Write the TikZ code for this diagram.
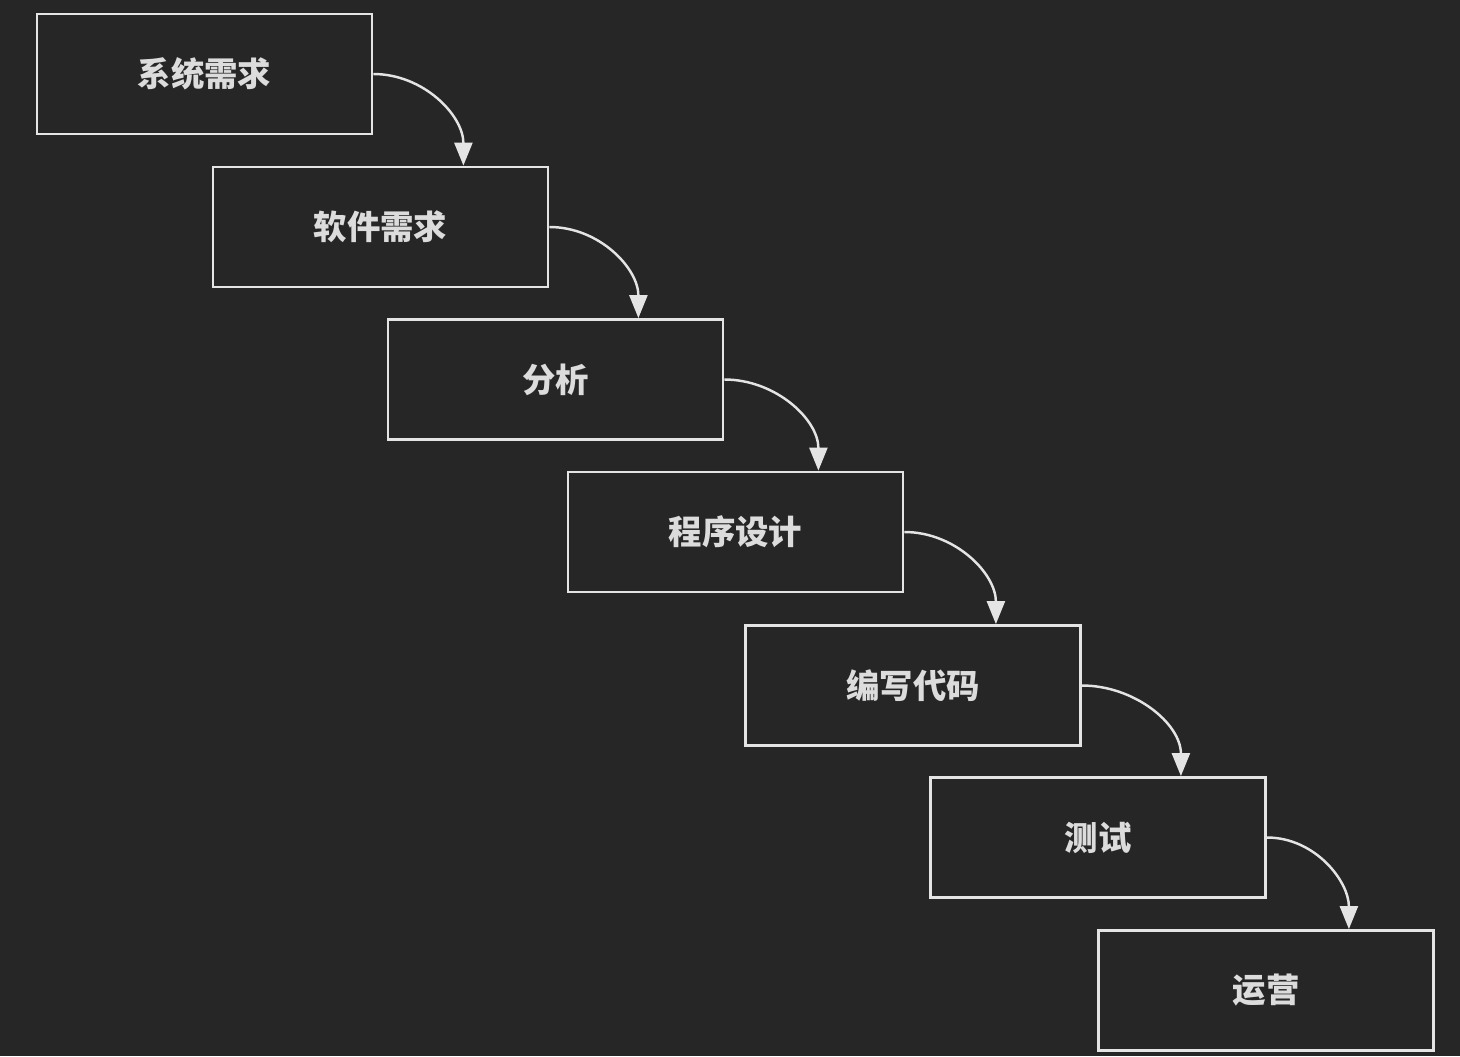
\documentclass[tikz,border=0pt]{standalone}
\usepackage{fontspec}
\newfontfamily\cjk{Noto Sans CJK SC}
\usepackage{xcolor}
\definecolor{cBg}{HTML}{262626}
\definecolor{cLine}{HTML}{E4E4E4}
\definecolor{cText}{HTML}{DCDCDC}
\usetikzlibrary{positioning,arrows.meta,calc}
\tikzset{
  node-box/.style={draw=cLine,line width=0.8pt,minimum width=33.5mm,
    minimum height=12mm,align=center,text=cText,
    font=\cjk\bfseries\fontsize{9.5pt}{11pt}\selectfont},
  arrow/.style={-{Triangle[length=2.3mm,width=1.8mm]},line width=0.7pt,
    draw=cLine,out=0,in=90},
}
\begin{document}
\begin{tikzpicture}
  \fill[cBg] (0,0) rectangle (14.6,-10.56);
  \node[node-box] (s1) at (2.045,-0.74) {系统需求};
  \node[node-box] (s2) at (3.805,-2.27) {软件需求};
  \node[node-box] (s3) at (5.555,-3.795) {分析};
  \node[node-box] (s4) at (7.355,-5.32) {程序设计};
  \node[node-box] (s5) at (9.13,-6.855) {编写代码};
  \node[node-box] (s6) at (10.98,-8.375) {测试};
  \node[node-box] (s7) at (12.66,-9.905) {运营};
  \foreach \a/\b in {s1/s2,s2/s3,s3/s4,s4/s5,s5/s6,s6/s7}
    \draw[arrow] (\a.east) to ($(\b.north east)+(-0.86,0)$);
\end{tikzpicture}
\end{document}
